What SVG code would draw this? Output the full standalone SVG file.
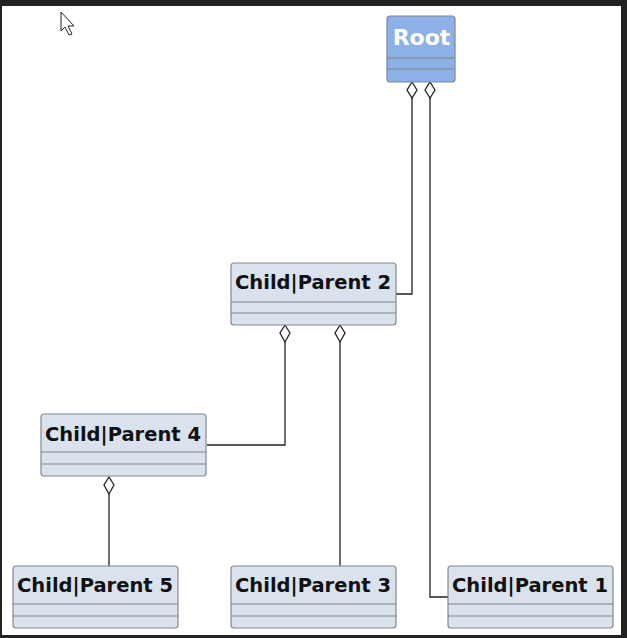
<svg xmlns="http://www.w3.org/2000/svg" width="627" height="638" viewBox="0 0 627 638">
<style>
.box{fill:#dae2ed;stroke:#85888d;stroke-width:1.2}
.root{fill:#8db0e6;stroke:#7d8593;stroke-width:1.2}
.sep{stroke:#7f8388;stroke-width:1.2}
.t{font-family:"DejaVu Sans",sans-serif;font-weight:bold;font-size:19.5px;fill:#111;text-anchor:middle}
.rt{font-family:"DejaVu Sans",sans-serif;font-weight:bold;font-size:22px;fill:#fff;text-anchor:middle}
.c{fill:none;stroke:#222;stroke-width:1.3}
.d{fill:#fff;stroke:#222;stroke-width:1.3}
</style>
<rect x="0" y="0" width="627" height="638" fill="#222"/>
<rect x="2" y="6" width="619" height="629" fill="#fff"/>
<polygon points="61,12 61,31 65,27 69,35 72,34 68,26 74,26" fill="#fff" stroke="#222" stroke-width="1"/>
<g id="connectors">
<path class="c" d="M412,98 V294 H396"/>
<path class="c" d="M430,98 V597 H448"/>
<path class="c" d="M285,342 V445 H207"/>
<path class="c" d="M340,342 V566"/>
<path class="c" d="M109,494 V566"/>
<polygon class="d" points="412,82 417,90 412,98 407,90"/>
<polygon class="d" points="430,82 435,90 430,98 425,90"/>
<polygon class="d" points="285,325 290,333 285,342 280,333"/>
<polygon class="d" points="340,325 345,333 340,342 335,333"/>
<polygon class="d" points="109,477 114,485 109,494 104,485"/>
</g>
<g id="root">
<rect class="root" x="387" y="16" width="68" height="66" rx="3"/>
<line class="sep" x1="387" y1="58" x2="455" y2="58"/>
<line class="sep" x1="387" y1="69" x2="455" y2="69"/>
<text class="rt" x="421.5" y="44.5">Root</text>
</g>
<g id="parent2">
<rect class="box" x="231" y="263" width="165" height="62" rx="3"/>
<line class="sep" x1="231" y1="302" x2="396" y2="302"/>
<line class="sep" x1="231" y1="313" x2="396" y2="313"/>
<text class="t" x="313" y="289">Child|Parent 2</text>
</g>
<g id="parent4">
<rect class="box" x="41" y="414" width="165" height="62" rx="3"/>
<line class="sep" x1="41" y1="452" x2="206" y2="452"/>
<line class="sep" x1="41" y1="464" x2="206" y2="464"/>
<text class="t" x="123" y="441">Child|Parent 4</text>
</g>
<g id="parent5">
<rect class="box" x="13" y="566" width="165" height="62" rx="3"/>
<line class="sep" x1="13" y1="604" x2="178" y2="604"/>
<line class="sep" x1="13" y1="616" x2="178" y2="616"/>
<text class="t" x="95" y="592">Child|Parent 5</text>
</g>
<g id="parent3">
<rect class="box" x="231" y="566" width="165" height="62" rx="3"/>
<line class="sep" x1="231" y1="604" x2="396" y2="604"/>
<line class="sep" x1="231" y1="616" x2="396" y2="616"/>
<text class="t" x="313" y="592">Child|Parent 3</text>
</g>
<g id="parent1">
<rect class="box" x="448" y="566" width="165" height="62" rx="3"/>
<line class="sep" x1="448" y1="604" x2="613" y2="604"/>
<line class="sep" x1="448" y1="616" x2="613" y2="616"/>
<text class="t" x="530" y="592">Child|Parent 1</text>
</g>
</svg>
